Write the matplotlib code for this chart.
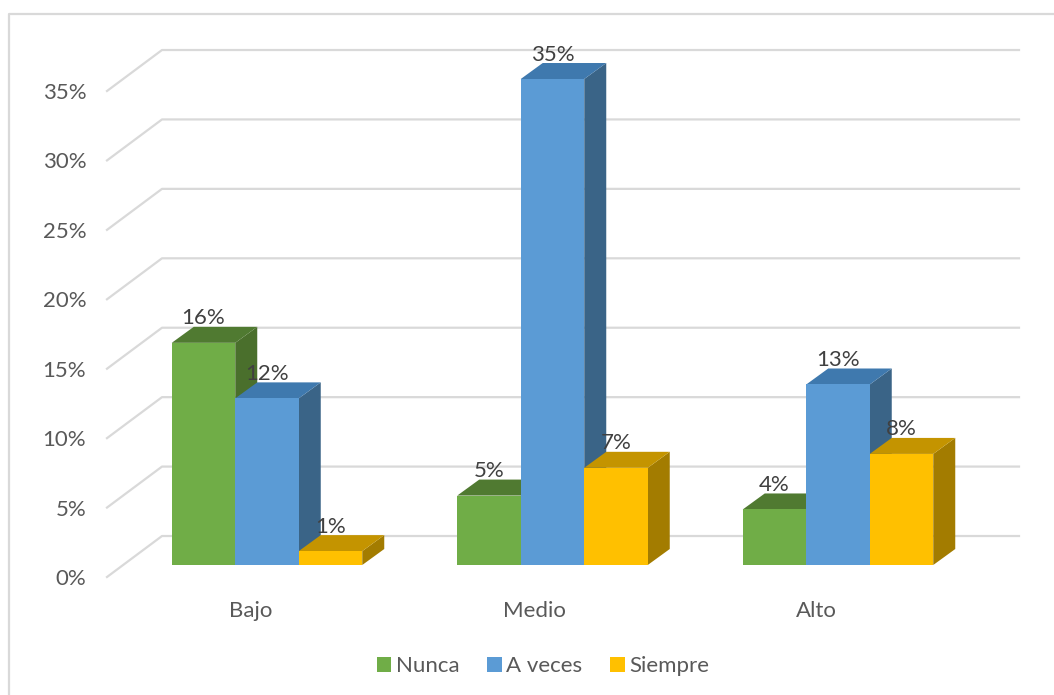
import matplotlib
matplotlib.use('Agg')
import matplotlib.pyplot as plt
from matplotlib.lines import Line2D
from matplotlib.patches import Polygon, Rectangle

plt.rcParams['font.family'] = ['Lato', 'DejaVu Sans']

categories = ['Bajo', 'Medio', 'Alto']
series_names = ['Nunca', 'A veces', 'Siempre']
nunca = [16, 5, 4]
a_veces = [12, 35, 13]
siempre = [1, 7, 8]
y_ticks = [0, 5, 10, 15, 20, 25, 30, 35]

front = ['#70AD47', '#5B9BD5', '#FFC000']
top = ['#507A31', '#3F79AE', '#C49400']
side = ['#4A6F2C', '#3A6487', '#A37C00']

W, H = 1054, 695
PX_Y = 13.89    # pixels per 1%
PX_X = 285.5    # pixels per category
BAR_W = 63.5 / PX_X

fig = plt.figure(figsize=(W / 100, H / 100), dpi=100)
# chart border only shows on the top and left, the rest is cut off
fig.add_artist(Line2D([9 / W, 9 / W, 1], [0, 1 - 14 / H, 1 - 14 / H], color='#D9D9D9', lw=1.6))

# axes = front plane of the 3d box
left, right, bottom, upper = 107, 964, 577, 91
ax = fig.add_axes([left / W, 1 - bottom / H, (right - left) / W, (bottom - upper) / H])
ax.set_xlim((left - 267) / PX_X, (right - 267) / PX_X)
ax.set_ylim(0, 35)
for s in ax.spines.values():
    s.set_visible(False)

# floor offsets, in data units
wall_dx = 55 / PX_X
wall_dy = 41 / PX_Y
base_dy = 12 / PX_Y
depth_x = 22 / PX_X
depth_y = 16 / PX_Y

x0, x1 = ax.get_xlim()
for v in y_ticks:
    ax.plot([x0, x0 + wall_dx, x1 + wall_dx], [v, v + wall_dy, v + wall_dy],
            color='#D9D9D9', lw=1.6, clip_on=False, zorder=1)

ax.set_yticks(y_ticks)
ax.set_yticklabels([str(v) + '%' for v in y_ticks], color='#595959', fontsize=16)
ax.tick_params(axis='y', length=0, pad=15)

ax.set_xticks([-0.056, 0.935, 1.926])
ax.set_xticklabels(categories, color='#595959', fontsize=16)
ax.tick_params(axis='x', length=0, pad=17)

all_series = [nunca, a_veces, siempre]
for i in range(3):
    for j, vals in enumerate(all_series):
        v = vals[i]
        xa = i + (j - 1.5) * BAR_W
        xb = xa + BAR_W
        ya = base_dy
        yb = base_dy + v
        z = 3 + i * 3 + j
        ax.add_patch(Polygon([(xb, ya), (xb + depth_x, ya + depth_y), (xb + depth_x, yb + depth_y), (xb, yb)],
                             fc=side[j], ec='none', clip_on=False, zorder=z))
        ax.add_patch(Polygon([(xa, yb), (xa + depth_x, yb + depth_y), (xb + depth_x, yb + depth_y), (xb, yb)],
                             fc=top[j], ec='none', clip_on=False, zorder=z))
        ax.add_patch(Rectangle((xa, ya), BAR_W, v, fc=front[j], ec='none', clip_on=False, zorder=z))
        ax.text((xa + xb) / 2, yb + 24.5 / PX_Y, str(v) + '%', ha='center', va='center',
                color='#404040', fontsize=16, zorder=30, clip_on=False)

handles = [Rectangle((0, 0), 1, 1, fc=c, ec='none') for c in front]
fig.legend(handles, series_names, loc='center', bbox_to_anchor=(543 / W, 1 - 666 / H), ncol=3,
           frameon=False, fontsize=16, labelcolor='#595959', handlelength=0.65, handleheight=0.65,
           handletextpad=0.2, columnspacing=1.25)

fig.savefig('out.png', dpi=100)
